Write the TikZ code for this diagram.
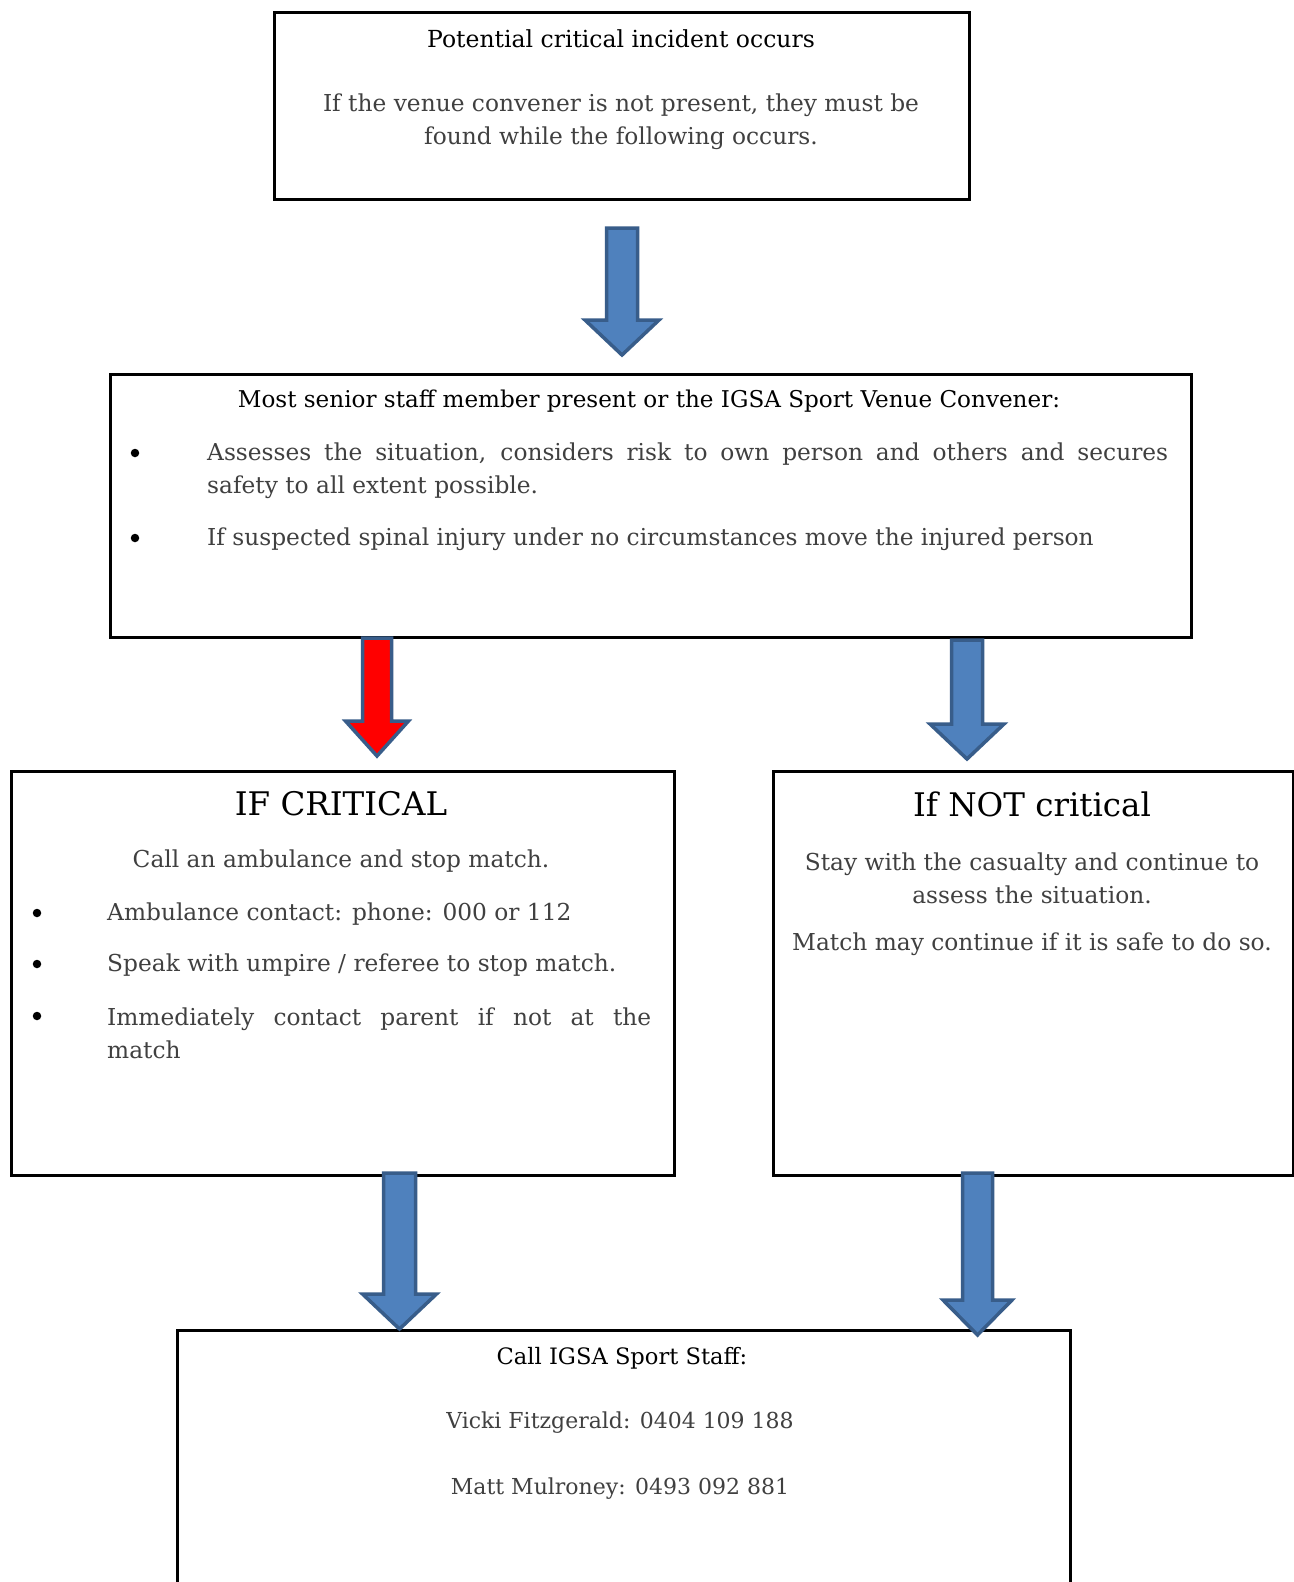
\documentclass[tikz,border=0pt]{standalone}
\usepackage{fontspec}
\setmainfont{DejaVu Serif}
\usetikzlibrary{calc}
\definecolor{afill}{HTML}{4F81BD}
\definecolor{aline}{HTML}{385D8A}
\definecolor{bodytext}{HTML}{404040}
\begin{document}
\begin{tikzpicture}[x=1pt,y=-1pt,
  box/.style={draw=black, line width=2.5pt, anchor=north west, inner sep=0pt},
  ttl/.style={text=black, font=\fontsize{23.3}{33}\selectfont, inner sep=0pt},
  big/.style={text=black, font=\fontsize{32.5}{40}\selectfont, inner sep=0pt},
  txt/.style={text=bodytext, font=\fontsize{23.3}{33}\selectfont, inner sep=0pt},
  txtb/.style={text=bodytext, font=\fontsize{22}{33}\selectfont, inner sep=0pt},
  dot/.style={circle, fill=black, inner sep=0pt, minimum size=8.5pt},
  barrow/.style 2 args={draw=aline, line width=3.5pt, fill=afill, line join=miter,
    to path={($(\tikztostart)+(-#1,0)$) -- ($(\tikztostart)+(#1,0)$)
      -- ($(\tikztotarget)+(#1,-35)$) -- ($(\tikztotarget)+(#2,-35)$)
      -- (\tikztotarget) -- ($(\tikztotarget)+(-#2,-35)$)
      -- ($(\tikztotarget)+(-#1,-35)$) -- cycle}}
]
\useasboundingbox (0,0) rectangle (1293,1582);
\fill[white] (0,0) rectangle (1293,1582);

% boxes
\node[box, minimum width=695, minimum height=187] (b1) at (273,11) {};
\node[box, minimum width=1081, minimum height=263] (b2) at (109,373) {};
\node[box, minimum width=663, minimum height=404] (b3) at (10,770) {};
\node[box, minimum width=520, minimum height=404] (b4) at (772,770) {};
\node[box, minimum width=893, minimum height=280] (b5) at (176,1329) {};

% box 1 text
\node[ttl, font=\fontsize{23.5}{33}\selectfont] (t1) at (621,39) {Potential critical incident occurs};
\node[txt, align=center] (t1b) at (621,121.5) {If the venue convener is not present, they must be\\found while the following occurs.};

% box 2 text
\node[ttl, font=\fontsize{23.1}{33}\selectfont] (t2) at (649,401) {Most senior staff member present or the IGSA Sport Venue Convener:};
\node[dot] (d21) at (135,453) {};
\node[txt, anchor=west, align=left] (t2a) at (207,470.5) {\makebox[961pt][s]{Assesses the situation, considers risk to own person and others and secures}\\safety to all extent possible.};
\node[dot] (d22) at (135,538) {};
\node[txt, anchor=west] (t2b) at (207,539) {If suspected spinal injury under no circumstances move the injured person};

% box 3 text
\node[big] (t3) at (341,804) {IF CRITICAL};
\node[txt] (t3a) at (341,861) {Call an ambulance and stop match.};
\node[dot] (d31) at (37,913) {};
\node[txt, anchor=west] (t3b) at (107,914) {Ambulance contact: phone: 000 or 112};
\node[dot] (d32) at (37,964) {};
\node[txt, anchor=west] (t3c) at (107,965) {Speak with umpire / referee to stop match.};
\node[dot] (d33) at (37,1016) {};
\node[txt, anchor=west, align=left] (t3d) at (107,1033.5) {\makebox[544pt][s]{Immediately contact parent if not at the}\\match};

% box 4 text
\node[big] (t4) at (1032,804) {If NOT critical};
\node[txt, align=center] (t4a) at (1032,878) {Stay with the casualty and continue to\\assess the situation.};
\node[txt] (t4b) at (1032,944) {Match may continue if it is safe to do so.};

% box 5 text
\node[ttl, font=\fontsize{22.6}{33}\selectfont] (t5) at (622,1358) {Call IGSA Sport Staff:};
\node[txtb] (t5a) at (620,1423) {Vicki Fitzgerald: 0404 109 188};
\node[txtb] (t5b) at (620,1489) {Matt Mulroney: 0493 092 881};

% arrow end points
\coordinate (a1s) at (622,228);
\coordinate (a1e) at (622,355);
\coordinate (a2s) at (377,638);
\coordinate (a2e) at (377,756);
\coordinate (a3s) at (967,640);
\coordinate (a3e) at (967,759);
\coordinate (a4s) at (399.5,1173);
\coordinate (a4e) at (399.5,1329);
\coordinate (a5s) at (977.5,1173);
\coordinate (a5e) at (977.5,1335);

% arrows
\draw[barrow={15.5}{37}] (a1s) to (a1e);
\draw[barrow={14.5}{31.5}, fill=red] (a2s) to (a2e);
\draw[barrow={15.5}{37}] (a3s) to (a3e);
\draw[barrow={16}{37}] (a4s) to (a4e);
\draw[barrow={15}{34.5}] (a5s) to (a5e);
\end{tikzpicture}
\end{document}
